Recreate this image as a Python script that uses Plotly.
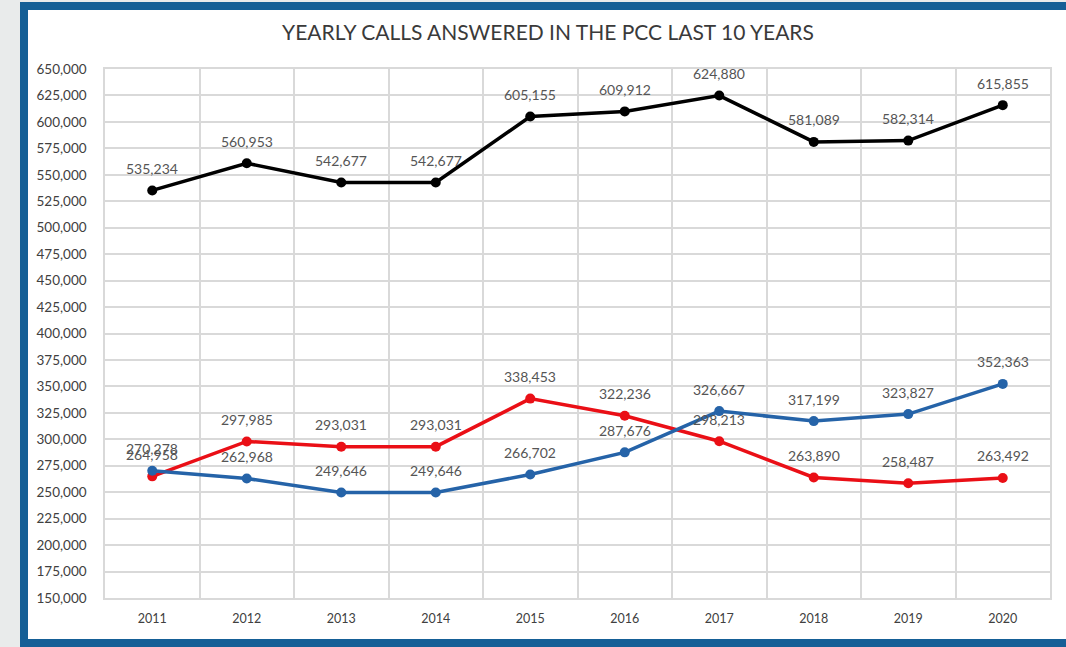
import plotly.graph_objects as go

years = ["2011", "2012", "2013", "2014", "2015", "2016", "2017", "2018", "2019", "2020"]
total_calls = [535234, 560953, 542677, 542677, 605155, 609912, 624880, 581089, 582314, 615855]
red_calls = [264958, 297985, 293031, 293031, 338453, 322236, 298213, 263890, 258487, 263492]
blue_calls = [270278, 262968, 249646, 249646, 266702, 287676, 326667, 317199, 323827, 352363]
y_ticks = list(range(150000, 650001, 25000))

W, H = 1066, 647
L, R, T, B = 105, 16, 69, 49
pw, ph = W - L - R, H - T - B

def px_x(p):
    return (p - L) / pw

def px_y(p):
    return 1 - (p - T) / ph

FONT = "Lato, Open Sans, sans-serif"

fig = go.Figure()
series = [(total_calls, "#000000"), (red_calls, "#ea0f16"), (blue_calls, "#2563a8")]
for vals, col in series:
    fig.add_trace(go.Scatter(
        x=years, y=vals, mode="lines+markers",
        line=dict(color=col, width=3.5),
        marker=dict(color=col, size=10),
        showlegend=False, hoverinfo="skip"))

annotations = []
for vals, col in series:
    for i, v in enumerate(vals):
        annotations.append(dict(
            x=i, y=v, xref="x", yref="y", text=f"{v:,}", showarrow=False,
            yshift=22, font=dict(family=FONT, size=14, color="#555555")))

fig.update_layout(
    width=W, height=H,
    margin=dict(l=L, r=R, t=T, b=B),
    paper_bgcolor="#e9ebeb",
    plot_bgcolor="rgba(0,0,0,0)",
    title=dict(text="YEARLY CALLS ANSWERED IN THE PCC LAST 10 YEARS",
               x=548 / W, xref="container", xanchor="center",
               y=1 - 33 / H, yref="container", yanchor="middle",
               font=dict(family=FONT, size=21, color="#3a3a3a")),
    annotations=annotations,
    shapes=[dict(type="rect", xref="paper", yref="paper", layer="below",
                 x0=px_x(24), x1=px_x(1070), y0=px_y(643), y1=px_y(6),
                 line=dict(color="#155f96", width=8), fillcolor="#ffffff")],
    xaxis=dict(type="category", range=[-0.5, 9.5], tickson="boundaries",
               showgrid=True, gridcolor="#d9d9d9", gridwidth=1.5,
               showline=True, mirror=True, linecolor="#d9d9d9", linewidth=1.5,
               ticks="", ticklen=0, ticklabelstandoff=8,
               tickfont=dict(family=FONT, size=12.5, color="#404040")),
    yaxis=dict(range=[150000, 650000], tickvals=y_ticks, tickformat=",",
               showgrid=True, gridcolor="#d9d9d9", gridwidth=1.5,
               showline=True, mirror=True, linecolor="#d9d9d9", linewidth=1.5,
               zeroline=False, ticks="", ticklabelstandoff=14,
               tickfont=dict(family=FONT, size=13.5, color="#404040")),
)

fig.write_html("out.html", config={"displayModeBar": False},
               post_script="document.body.style.margin='0';")
